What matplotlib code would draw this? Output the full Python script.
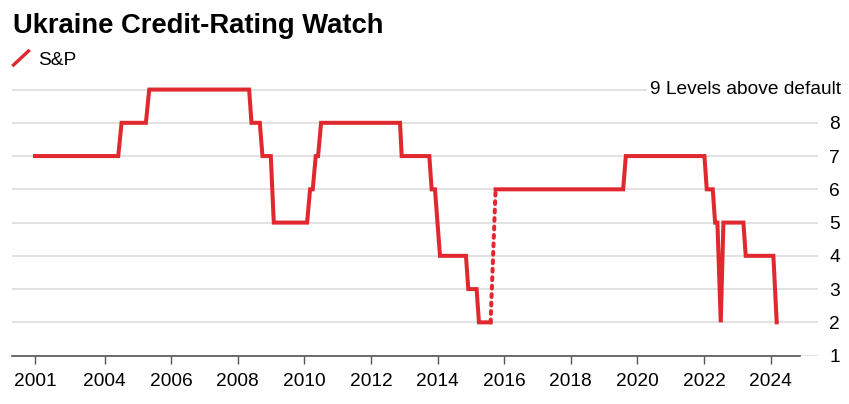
import matplotlib.pyplot as plt
from matplotlib.lines import Line2D

plt.rcParams['font.family'] = ['Liberation Sans', 'DejaVu Sans']

# S&P rating, levels above default, vertices (decimal years)
sp_dates = [2001.91, 2004.41, 2004.51, 2005.24, 2005.34, 2008.34, 2008.41, 2008.66,
            2008.74, 2008.99, 2009.08, 2010.08, 2010.17, 2010.25, 2010.34, 2010.41,
            2010.50, 2012.87, 2012.92, 2013.75, 2013.82, 2013.92, 2014.07, 2014.85,
            2014.92, 2015.17, 2015.24, 2015.59]
sp_levels = [7, 7, 8, 8, 9, 9, 8, 8,
             7, 7, 5, 5, 6, 6, 7, 7,
             8, 8, 7, 7, 6, 6, 4, 4,
             3, 3, 2, 2]

# selective default gap, drawn dotted
gap_dates = [2015.59, 2015.74]
gap_levels = [2, 6]

sp_dates2 = [2015.74, 2019.57, 2019.65, 2022.01, 2022.08, 2022.26, 2022.33, 2022.40,
             2022.50, 2022.58, 2023.18, 2023.25, 2024.08, 2024.18]
sp_levels2 = [6, 6, 7, 7, 6, 6, 5, 5,
              2, 5, 5, 4, 4, 2]

tick_years = [2001.91, 2004, 2006, 2008, 2010, 2012, 2014, 2016, 2018, 2020, 2022, 2024]
tick_labels = ['2001', '2004', '2006', '2008', '2010', '2012', '2014', '2016',
               '2018', '2020', '2022', '2024']
levels = [1, 2, 3, 4, 5, 6, 7, 8, 9]

red = '#e0282e'
x_min, x_max, axis_end = 2001.22, 2025.42, 2024.88

fig = plt.figure(figsize=(8.49, 4.04), dpi=100)
ax = fig.add_axes([12 / 849, 0.1198, 806 / 849, 0.803 - 0.1198])

# gridlines; the top one stops short of its label
for lv in levels:
    end = 2020.29 if lv == 9 else x_max
    ax.hlines(lv, x_min, end, color='#dadada', lw=1.1, zorder=1)

ax.plot(sp_dates, sp_levels, color=red, lw=2.9, solid_joinstyle='miter', zorder=3)
ax.plot(sp_dates2, sp_levels2, color=red, lw=2.9, solid_joinstyle='miter', zorder=3)
ax.plot(gap_dates, gap_levels, color=red, lw=2.9, linestyle=(0, (0.7, 1.4)),
        dash_capstyle='round', zorder=3)

ax.set_xlim(x_min, x_max)
ax.set_ylim(1, 9.3)

for s in ['top', 'left', 'right']:
    ax.spines[s].set_visible(False)
ax.spines['bottom'].set_bounds(x_min, axis_end)
ax.spines['bottom'].set_color('#555555')
ax.spines['bottom'].set_linewidth(1.2)
ax.spines['bottom'].set_zorder(2)

ax.set_xticks(tick_years)
ax.set_xticklabels(tick_labels)
ax.tick_params(axis='x', length=5.5, width=1, color='#555555', labelsize=13.8, pad=7)

ax.yaxis.tick_right()
ax.set_yticks(levels[:-1])
ax.set_yticklabels([str(v) for v in levels[:-1]])
ax.tick_params(axis='y', length=0, labelsize=13.8, pad=8.2)
ax.text(1.0 + 23 / 806, 9, '9 Levels above default', transform=ax.get_yaxis_transform(),
        ha='right', va='center', fontsize=13.8)

fig.text(13 / 849, 0.918, 'Ukraine Credit-Rating Watch', fontsize=19.7, fontweight='bold',
         va='baseline', ha='left')
fig.add_artist(Line2D([13.5 / 849, 28.5 / 849], [(404 - 65) / 404, (404 - 51) / 404],
                      color=red, lw=2.4, transform=fig.transFigure))
fig.text(38 / 849, (404 - 65) / 404, 'S&P', fontsize=13.8, va='baseline', ha='left')

fig.savefig('out.png', dpi=100)
